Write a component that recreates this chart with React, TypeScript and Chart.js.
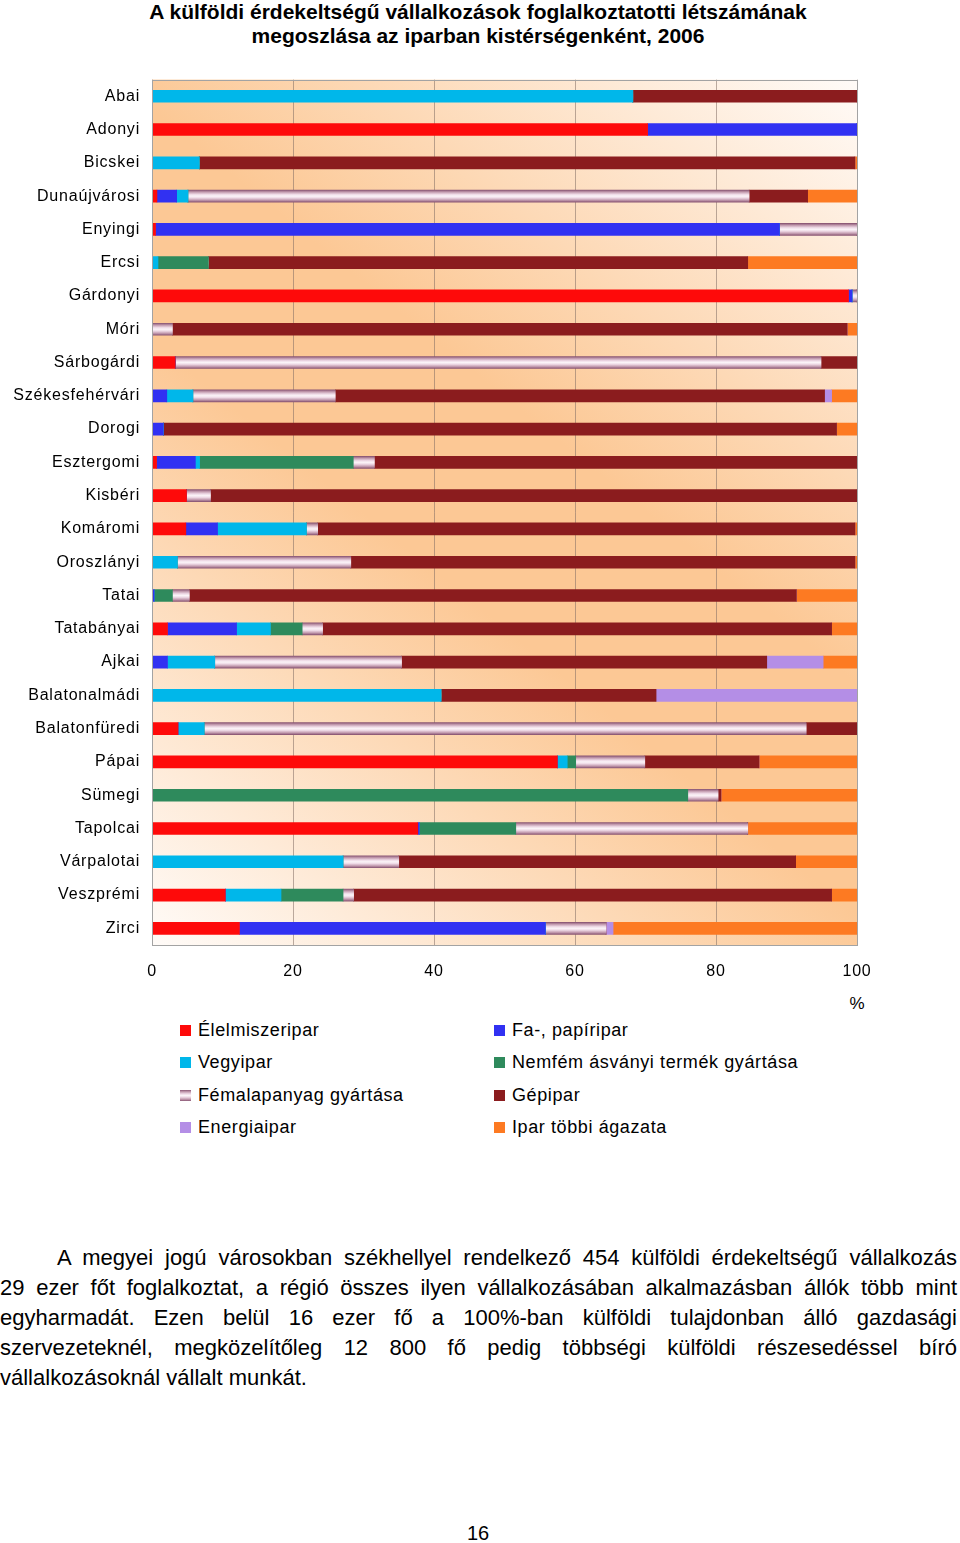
import React, { useEffect, useRef } from 'react';
import { Chart, registerables } from 'chart.js';
Chart.register(...registerables);

const categories = ['Abai', 'Adonyi', 'Bicskei', 'Dunaújvárosi', 'Enyingi', 'Ercsi', 'Gárdonyi', 'Móri', 'Sárbogárdi', 'Székesfehérvári', 'Dorogi', 'Esztergomi', 'Kisbéri', 'Komáromi', 'Oroszlányi', 'Tatai', 'Tatabányai', 'Ajkai', 'Balatonalmádi', 'Balatonfüredi', 'Pápai', 'Sümegi', 'Tapolcai', 'Várpalotai', 'Veszprémi', 'Zirci'];

const elelmiszeripar = [0, 70.3, 0, 0.7, 0.5, 0, 98.8, 0, 3.3, 0, 0, 0.65, 4.9, 4.8, 0, 0, 2.2, 0, 0, 3.7, 57.5, 0, 37.7, 0, 10.4, 12.4];
const fapapiripar = [0, 29.7, 0, 2.8, 88.5, 0, 0.5, 0, 0, 2.1, 1.6, 5.5, 0, 4.5, 0, 0.3, 9.8, 2.2, 0, 0, 0, 0, 0.2, 0, 0, 43.4];
const vegyipar = [68.2, 0, 6.7, 1.6, 0, 0.85, 0, 0, 0, 3.7, 0, 0.6, 0, 12.6, 3.6, 0, 4.8, 6.7, 41.0, 3.7, 1.4, 0, 0, 27.1, 7.9, 0];
const nemfem = [0, 0, 0, 0, 0, 7.15, 0, 0, 0, 0, 0, 21.8, 0, 0, 0, 2.6, 4.5, 0, 0, 0, 1.2, 76.0, 13.7, 0, 8.8, 0];
const femalapanyag = [0, 0, 0, 79.6, 11.0, 0, 0.7, 2.9, 91.6, 20.2, 0, 3.0, 3.4, 1.6, 24.6, 2.4, 2.9, 26.5, 0, 85.4, 9.8, 4.3, 32.9, 7.9, 1.5, 8.6];
const gepipar = [31.8, 0, 93.0, 8.3, 0, 76.5, 0, 95.7, 5.1, 69.4, 95.5, 68.4, 91.7, 76.2, 71.5, 86.1, 72.2, 51.8, 30.5, 7.2, 16.2, 0.4, 0, 56.3, 67.8, 0];
const energiaipar = [0, 0, 0, 0, 0, 0, 0, 0, 0, 1.0, 0, 0, 0, 0, 0, 0, 0, 8.0, 28.5, 0, 0, 0, 0, 0, 0, 1.0];
const egyeb = [0, 0, 0.3, 7.0, 0, 15.5, 0, 1.4, 0, 3.6, 2.9, 0, 0, 0.3, 0.3, 8.6, 3.6, 4.8, 0, 0, 13.9, 19.3, 15.5, 8.7, 3.6, 34.6];

const xTicks = [0, 20, 40, 60, 80, 100];

const seriesNames = ['Élelmiszeripar', 'Fa-, papíripar', 'Vegyipar', 'Nemfém ásványi termék gyártása', 'Fémalapanyag gyártása', 'Gépipar', 'Energiaipar', 'Ipar többi ágazata'];
const seriesColors = ['#fe0a0a', '#3131f2', '#00b7ea', '#2e8a5c', 'pattern', '#8b1c1e', '#b48ee6', '#fd7a22'];
const seriesData = [elelmiszeripar, fapapiripar, vegyipar, nemfem, femalapanyag, gepipar, energiaipar, egyeb];

const legendOrder = [0, 1, 2, 3, 4, 5, 6, 7];

const FONT = '"Liberation Sans", Arial, Helvetica, sans-serif';
const BAR_H = 12;

const femStops: [number, string][] = [
  [0, '#8a5674'],
  [0.16, '#c29aae'],
  [0.36, '#efdbe7'],
  [0.5, '#fbf4f8'],
  [0.64, '#efdbe7'],
  [0.84, '#c29aae'],
  [1, '#8a5674'],
];

const femScriptable = (c: any) => {
  const chart = c.chart;
  const y = chart.scales && chart.scales.y;
  if (!y || c.dataIndex === undefined || !chart.chartArea) return '#e8d0de';
  const cy = y.getPixelForValue(c.dataIndex);
  if (!isFinite(cy)) return '#e8d0de';
  const g = chart.ctx.createLinearGradient(0, cy - BAR_H / 2, 0, cy + BAR_H / 2);
  femStops.forEach(([o, col]) => g.addColorStop(o, col));
  return g;
};

const bgPlugin = {
  id: 'bgPlugin',
  beforeLayout(chart: any) {
    try {
      chart.ctx.letterSpacing = '0.8px';
    } catch (e) {}
  },
  beforeDraw(chart: any) {
    const { ctx, chartArea: a } = chart;
    try {
      ctx.letterSpacing = '0.8px';
    } catch (e) {}
    if (!a) return;
    ctx.save();
    const g = ctx.createLinearGradient(a.right, a.top, a.left, a.bottom);
    g.addColorStop(0, '#fffbf8');
    g.addColorStop(0.42, '#fcc895');
    g.addColorStop(0.58, '#fcc895');
    g.addColorStop(1, '#fffbf8');
    ctx.fillStyle = g;
    ctx.fillRect(a.left, a.top, a.right - a.left, a.bottom - a.top);
    ctx.restore();
  },
  afterDraw(chart: any) {
    const { ctx, chartArea: a } = chart;
    if (!a) return;
    ctx.save();
    ctx.strokeStyle = '#a3a3a3';
    ctx.lineWidth = 1;
    ctx.strokeRect(Math.round(a.left) + 0.5, Math.round(a.top) + 0.5, Math.round(a.right - a.left), Math.round(a.bottom - a.top));
    ctx.restore();
  },
};

function ChartCanvas() {
  const ref = useRef<HTMLCanvasElement | null>(null);
  useEffect(() => {
    if (!ref.current) return;
    const chart = new Chart(ref.current, {
      type: 'bar',
      data: {
        labels: categories,
        datasets: seriesData.map((d, i) => ({
          label: seriesNames[i],
          data: d,
          backgroundColor: seriesColors[i] === 'pattern' ? femScriptable : seriesColors[i],
          borderWidth: 0,
          barThickness: BAR_H,
        })),
      },
      options: {
        indexAxis: 'y',
        responsive: false,
        animation: false,
        maintainAspectRatio: false,
        layout: { padding: { left: 0, right: 103, top: 10, bottom: 0 } },
        plugins: {
          legend: { display: false },
          title: { display: false },
          tooltip: { enabled: false },
        },
        scales: {
          x: {
            stacked: true,
            min: 0,
            max: 100,
            afterBuildTicks: (s: any) => {
              s.ticks = xTicks.map((v) => ({ value: v }));
            },
            afterFit: (s: any) => {
              s.height = 45;
            },
            ticks: {
              font: { family: FONT, size: 16 },
              color: '#000',
              padding: 17,
            },
            grid: { color: 'rgba(130,110,100,0.55)', drawTicks: false, lineWidth: 1 },
            border: { display: false },
          },
          y: {
            stacked: true,
            afterFit: (s: any) => {
              s.width = 152;
            },
            ticks: {
              font: { family: FONT, size: 16 },
              color: '#000',
              padding: 12,
            },
            grid: { display: false, drawTicks: false },
            border: { display: false },
          },
        },
      },
      plugins: [bgPlugin],
    } as any);
    chart.update();
    return () => chart.destroy();
  }, []);
  return <canvas ref={ref} width={960} height={932} style={{ width: 960, height: 932, display: 'block' }} />;
}

const legendPos = [
  { left: 180, yc: 1030 },
  { left: 494, yc: 1030 },
  { left: 180, yc: 1062 },
  { left: 494, yc: 1062 },
  { left: 180, yc: 1095 },
  { left: 494, yc: 1095 },
  { left: 180, yc: 1127 },
  { left: 494, yc: 1127 },
];

const paragraphLines = [
  'A megyei jogú városokban székhellyel rendelkező 454 külföldi érdekeltségű vállalkozás',
  '29 ezer főt foglalkoztat, a régió összes ilyen vállalkozásában alkalmazásban állók több mint',
  'egyharmadát. Ezen belül 16 ezer fő a 100%-ban külföldi tulajdonban álló gazdasági',
  'szervezeteknél, megközelítőleg 12 800 fő pedig többségi külföldi részesedéssel bíró',
  'vállalkozásoknál vállalt munkát.',
];

export default function App() {
  const femCss = 'linear-gradient(to bottom, #8a5674 0%, #c29aae 16%, #efdbe7 36%, #fbf4f8 50%, #efdbe7 64%, #c29aae 84%, #8a5674 100%)';
  return (
    <div style={{ position: 'absolute', left: 0, top: 0, width: 960, height: 1543, fontFamily: FONT, color: '#000', background: '#fff' }}>
      <div style={{ position: 'absolute', left: 0, top: 0, width: 956, textAlign: 'center', fontWeight: 'bold', fontSize: 21, lineHeight: '24px' }}>
        A külföldi érdekeltségű vállalkozások foglalkoztatotti létszámának
        <br />
        megoszlása az iparban kistérségenként, 2006
      </div>
      <div style={{ position: 'absolute', left: 0, top: 58 }}>
        <ChartCanvas />
      </div>
      <div style={{ position: 'absolute', left: 847, top: 994, width: 20, textAlign: 'center', fontSize: 17, lineHeight: '20px' }}>%</div>
      {legendOrder.map((i) => {
        const p = legendPos[i];
        return (
          <div key={i} style={{ position: 'absolute', left: p.left, top: p.yc - 11, height: 22, display: 'flex', alignItems: 'center', whiteSpace: 'nowrap' }}>
            <span style={{ display: 'inline-block', width: 11, height: 11, background: seriesColors[i] === 'pattern' ? femCss : seriesColors[i], marginRight: 7 }} />
            <span style={{ fontSize: 18, lineHeight: '22px', letterSpacing: '0.6px' }}>{seriesNames[i]}</span>
          </div>
        );
      })}
      <div style={{ position: 'absolute', left: 0, top: 1243, width: 957, fontSize: 22, lineHeight: '30px' }}>
        {paragraphLines.map((l, i) => (
          <div
            key={i}
            style={{
              textAlign: 'justify',
              textAlignLast: i < paragraphLines.length - 1 ? 'justify' : 'left',
              textIndent: i === 0 ? 57 : 0,
              whiteSpace: 'nowrap',
            } as any}
          >
            {l}
          </div>
        ))}
      </div>
      <div style={{ position: 'absolute', left: 0, top: 1521, width: 956, textAlign: 'center', fontSize: 20, lineHeight: '24px' }}>16</div>
    </div>
  );
}
